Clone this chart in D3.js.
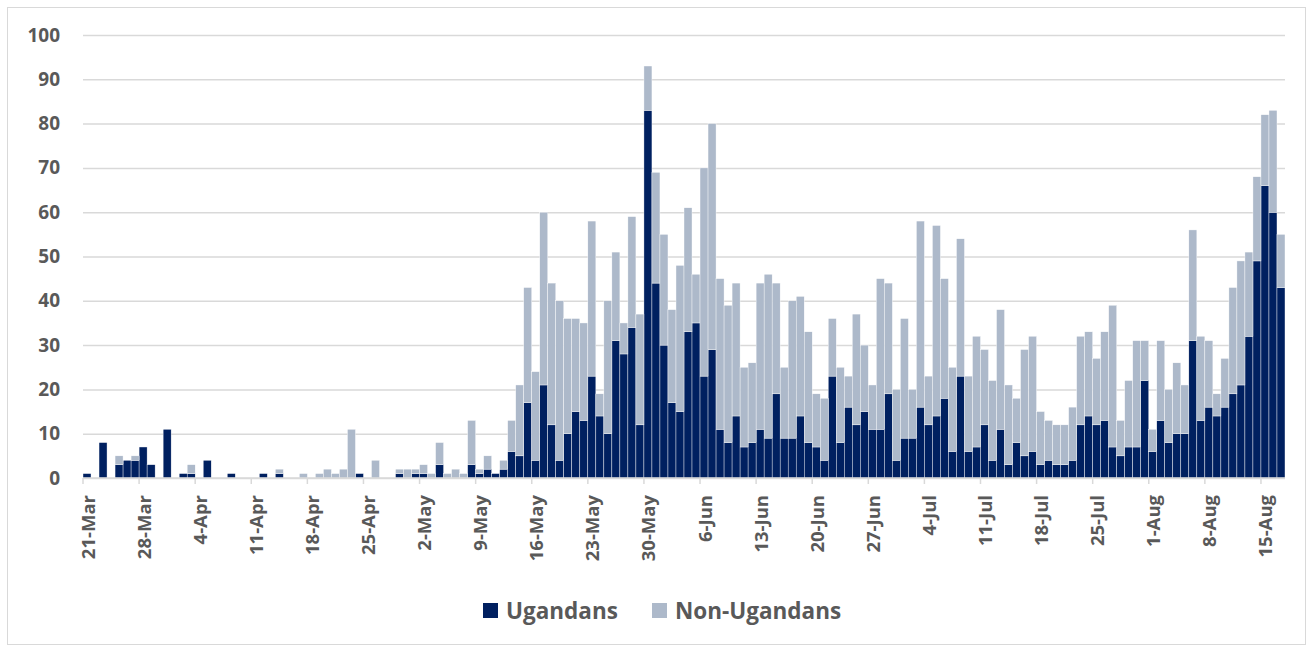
<!DOCTYPE html>
<html>
<head>
<meta charset="utf-8">
<script src="https://cdn.jsdelivr.net/npm/d3@7"></script>
<style>
  body { margin: 0; background: #fff; }
  text { font-family: 'Open Sans', 'Noto Sans', sans-serif; font-weight: bold; fill: #595959; }
</style>
</head>
<body>
<svg id="chart" width="1313" height="649"></svg>
<script>
// daily cases, 21-Mar to 17-Aug
const startDay = new Date(2020, 2, 21)
const endDay = new Date(2020, 7, 18)

const ugandans = [
  1, 0, 8, 0, 3, 4, 4, 7, 3, 0, 11, 0, 1, 1, 0, 4, 0, 0, 1, 0,
  0, 0, 1, 0, 1, 0, 0, 0, 0, 0, 0, 0, 0, 0, 1, 0, 0, 0, 0, 1,
  0, 1, 1, 0, 3, 0, 0, 0, 3, 1, 2, 1, 2, 6, 5, 17, 4, 21, 12, 4,
  10, 15, 13, 23, 14, 10, 31, 28, 34, 12, 83, 44, 30, 17, 15, 33, 35, 23, 29, 11,
  8, 14, 7, 8, 11, 9, 19, 9, 9, 14, 8, 7, 4, 23, 8, 16, 12, 15, 11, 11,
  19, 4, 9, 9, 16, 12, 14, 18, 6, 23, 6, 7, 12, 4, 11, 3, 8, 5, 6, 3,
  4, 3, 3, 4, 12, 14, 12, 13, 7, 5, 7, 7, 22, 6, 13, 8, 10, 10, 31, 13,
  16, 14, 16, 19, 21, 32, 49, 66, 60, 43
]

const nonUgandans = [
  0, 0, 0, 0, 2, 0, 1, 0, 0, 0, 0, 0, 0, 2, 0, 0, 0, 0, 0, 0,
  0, 0, 0, 0, 1, 0, 0, 1, 0, 1, 2, 1, 2, 11, 0, 0, 4, 0, 0, 1,
  2, 1, 2, 1, 5, 1, 2, 1, 10, 1, 3, 0, 2, 7, 16, 26, 20, 39, 32, 36,
  26, 21, 22, 35, 5, 30, 20, 7, 25, 25, 10, 25, 25, 21, 33, 28, 11, 47, 51, 34,
  31, 30, 18, 18, 33, 37, 25, 16, 31, 27, 25, 12, 14, 13, 17, 7, 25, 15, 10, 34,
  25, 16, 27, 11, 42, 11, 43, 27, 19, 31, 17, 25, 17, 18, 27, 18, 10, 24, 26, 12,
  9, 9, 9, 12, 20, 19, 15, 20, 32, 8, 15, 24, 9, 5, 18, 12, 16, 11, 25, 19,
  15, 5, 11, 24, 28, 19, 19, 16, 23, 12
]

const tickLabels = [
  '21-Mar', '28-Mar', '4-Apr', '11-Apr', '18-Apr', '25-Apr', '2-May', '9-May',
  '16-May', '23-May', '30-May', '6-Jun', '13-Jun', '20-Jun', '27-Jun', '4-Jul',
  '11-Jul', '18-Jul', '25-Jul', '1-Aug', '8-Aug', '15-Aug'
]

const yTicks = [0, 10, 20, 30, 40, 50, 60, 70, 80, 90, 100]
const seriesNames = ['Ugandans', 'Non-Ugandans']
const colors = ['#002060', '#adb9ca']

const fmt = d3.timeFormat('%-d-%b')
const days = d3.timeDay.range(startDay, endDay).map(fmt)

// table for the stack layout
const table = days.map((d, i) => ({ day: d, Ugandans: ugandans[i], 'Non-Ugandans': nonUgandans[i] }))

const svg = d3.select('#chart')

// outer frame
svg.append('rect')
  .attr('x', 7.5).attr('y', 7.5)
  .attr('width', 1298).attr('height', 637)
  .attr('fill', 'none')
  .attr('stroke', '#d9d9d9')

const margin = { left: 83, right: 1285, top: 35, bottom: 478 }

const x = d3.scaleBand()
  .domain(days)
  .range([margin.left, margin.right])
  .paddingInner(0)
  .paddingOuter(0)

const y = d3.scaleLinear()
  .domain([0, 100])
  .range([margin.bottom, margin.top])

// gridlines + y labels
const yAxis = svg.append('g')
  .attr('transform', `translate(${margin.left},0)`)
  .call(d3.axisLeft(y).tickValues(yTicks).tickSize(-(margin.right - margin.left)).tickPadding(23))

yAxis.select('.domain').remove()
yAxis.selectAll('.tick line').attr('stroke', '#d9d9d9').attr('stroke-width', 1.5)
yAxis.selectAll('.tick text')
  .style('font-size', '19px')
  .style('font-family', null)

// bars
const stack = d3.stack().keys(seriesNames)(table)

svg.append('g')
  .selectAll('g')
  .data(stack)
  .join('g')
  .attr('fill', (d, i) => colors[i])
  .selectAll('rect')
  .data(d => d)
  .join('rect')
  .attr('x', d => x(d.data.day))
  .attr('width', x.bandwidth())
  .attr('y', d => y(d[1]))
  .attr('height', d => y(d[0]) - y(d[1]))
  .attr('stroke', '#fff')
  .attr('stroke-width', 0.4)

// x axis with weekly ticks between categories
const xAxis = svg.append('g')
  .attr('transform', `translate(0,${margin.bottom})`)

xAxis.append('line')
  .attr('x1', margin.left).attr('x2', margin.right)
  .attr('stroke', '#d9d9d9').attr('stroke-width', 1.5)

xAxis.selectAll('.tickmark')
  .data(tickLabels)
  .join('line')
  .attr('class', 'tickmark')
  .attr('x1', d => x(d)).attr('x2', d => x(d))
  .attr('y1', 0).attr('y2', 6)
  .attr('stroke', '#d9d9d9').attr('stroke-width', 1.5)

xAxis.selectAll('.xlabel')
  .data(tickLabels)
  .join('text')
  .attr('class', 'xlabel')
  .attr('text-anchor', 'end')
  .attr('dominant-baseline', 'central')
  .attr('transform', d => `translate(${x(d) + x.bandwidth() / 2},17) rotate(-90)`)
  .style('font-size', '18.5px')
  .text(d => d)

// legend
const legend = svg.append('g').attr('transform', 'translate(0,611)')
const legendX = [483, 652]

seriesNames.forEach((name, i) => {
  legend.append('rect')
    .attr('x', legendX[i]).attr('y', -8)
    .attr('width', 15).attr('height', 15)
    .attr('fill', colors[i])
  legend.append('text')
    .attr('x', legendX[i] + 23).attr('y', 8)
    .style('font-size', '22.5px')
    .text(name)
})
</script>
</body>
</html>
